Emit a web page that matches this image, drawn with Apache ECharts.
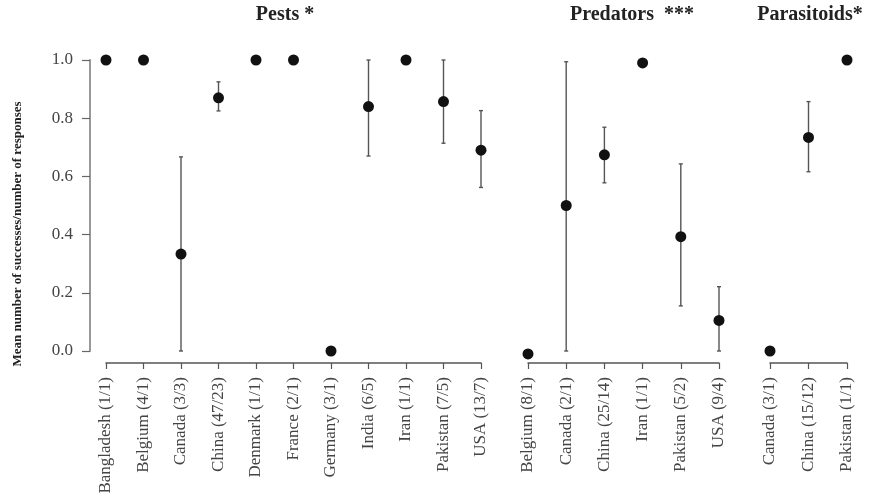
<!DOCTYPE html>
<html>
<head>
<meta charset="utf-8">
<script src="https://cdn.jsdelivr.net/npm/echarts@6/dist/echarts.min.js"></script>
<style>
html, body { margin: 0; padding: 0; background: #fff; }
#main { width: 885px; height: 504px; }
</style>
</head>
<body>
<div id="main"></div>
<script>
// panels: pests / predators / parasitoids
var pestNames = ['Bangladesh (1/1)', 'Belgium (4/1)', 'Canada (3/3)', 'China (47/23)', 'Denmark (1/1)', 'France (2/1)',
    'Germany (3/1)', 'India (6/5)', 'Iran (1/1)', 'Pakistan (7/5)', 'USA (13/7)'];
var pestMean = [1, 1, 0.333, 0.87, 1, 1, 0, 0.84, 1, 0.857, 0.69];
var pestLow  = [null, null, 0, 0.825, null, null, null, 0.67, null, 0.714, 0.562];
var pestHigh = [null, null, 0.667, 0.925, null, null, null, 1, null, 1, 0.826];

var predNames = ['Belgium (8/1)', 'Canada (2/1)', 'China (25/14)', 'Iran (1/1)', 'Pakistan (5/2)', 'USA (9/4)'];
var predMean = [-0.01, 0.5, 0.674, 0.99, 0.393, 0.105];
var predLow  = [null, 0, 0.578, null, 0.155, 0];
var predHigh = [null, 0.994, 0.769, null, 0.643, 0.221];

var paraNames = ['Canada (3/1)', 'China (15/12)', 'Pakistan (1/1)'];
var paraMean = [0, 0.734, 1];
var paraLow  = [null, 0.616, null];
var paraHigh = [null, 0.857, null];

var serif = "'Liberation Serif', 'Times New Roman', serif";

window.onload = function() {
    var myChart = echarts.init(document.getElementById('main'));

    var panels = [
        {title: 'Pests *', names: pestNames, mean: pestMean, low: pestLow, high: pestHigh, left: 106, width: 375, tx: 280},
        {title: 'Predators  ***', names: predNames, mean: predMean, low: predLow, high: predHigh, left: 528, width: 191, tx: 627},
        {title: 'Parasitoids*', names: paraNames, mean: paraMean, low: paraLow, high: paraHigh, left: 770, width: 77, tx: 805}
    ];

    var grids = [], xAxes = [], yAxes = [], series = [], titles = [];

    for (var i = 0; i < panels.length; i++) {
        var p = panels[i];
        grids.push({left: p.left, width: p.width, top: 60, height: 291});
        titles.push({
            text: p.title, left: p.tx, top: 0, textAlign: 'center',
            textStyle: {fontFamily: serif, fontSize: 20, fontWeight: 'bold', color: '#222'}
        });
        xAxes.push({
            type: 'category', gridIndex: i, data: p.names, boundaryGap: false, offset: 12,
            axisLine: {onZero: false, lineStyle: {color: '#555', width: 1.5}},
            axisTick: {length: 6, lineStyle: {color: '#555', width: 1.2}},
            axisLabel: {rotate: 90, margin: 14, interval: 0, fontFamily: serif, fontSize: 17, color: '#444'}
        });
        yAxes.push({
            type: 'value', gridIndex: i, min: 0, max: 1, interval: 0.2, show: i == 0, offset: 16,
            splitLine: {show: false},
            axisLine: {show: true, onZero: false, lineStyle: {color: '#999', width: 2}},
            axisTick: {show: true, length: 8, lineStyle: {color: '#666', width: 1.2}},
            axisLabel: {margin: 17, fontFamily: serif, fontSize: 17, color: '#444',
                formatter: function(v) { return v.toFixed(1); }}
        });

        var bars = [];
        for (var k = 0; k < p.mean.length; k++) {
            if (p.low[k] != null) bars.push([k, p.low[k], p.high[k]]);
        }
        series.push({
            type: 'custom', xAxisIndex: i, yAxisIndex: i, clip: false, data: bars,
            renderItem: function(params, api) {
                var top = api.coord([api.value(0), api.value(2)]);
                var bot = api.coord([api.value(0), api.value(1)]);
                var st = {stroke: '#555', lineWidth: 1.4};
                return {
                    type: 'group',
                    children: [
                        {type: 'line', shape: {x1: top[0], y1: top[1], x2: bot[0], y2: bot[1]}, style: st},
                        {type: 'line', shape: {x1: top[0] - 2, y1: top[1], x2: top[0] + 2, y2: top[1]}, style: st},
                        {type: 'line', shape: {x1: bot[0] - 2, y1: bot[1], x2: bot[0] + 2, y2: bot[1]}, style: st}
                    ]
                };
            }
        });
        var pts = [];
        for (var k = 0; k < p.mean.length; k++) pts.push([k, p.mean[k]]);
        series.push({
            type: 'scatter', xAxisIndex: i, yAxisIndex: i, clip: false, data: pts,
            symbolSize: 11, itemStyle: {color: '#111', opacity: 1}, z: 5
        });
    }

    var option = {
        backgroundColor: '#fff',
        animation: false,
        title: titles,
        grid: grids,
        xAxis: xAxes,
        yAxis: yAxes,
        series: series,
        graphic: [{
            type: 'text', x: 18, y: 234, rotation: Math.PI / 2,
            style: {
                text: 'Mean number of successes/number of responses',
                fontFamily: serif, fontSize: 13, fontWeight: 'bold', fill: '#222',
                align: 'center', verticalAlign: 'middle'
            }
        }]
    };

    myChart.setOption(option);
}
</script>
</body>
</html>
